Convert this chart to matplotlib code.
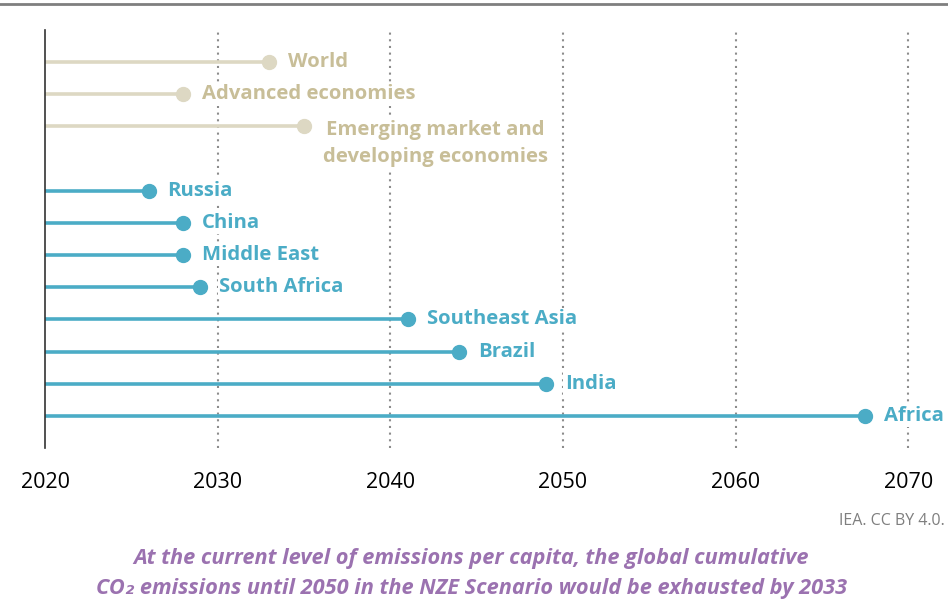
import matplotlib
matplotlib.use('Agg')
import matplotlib.pyplot as plt
from matplotlib.lines import Line2D

labels = ['World', 'Advanced economies', 'Emerging market and\ndeveloping economies',
          'Russia', 'China', 'Middle East', 'South Africa', 'Southeast Asia',
          'Brazil', 'India', 'Africa']
years = [2033, 2028, 2035, 2026, 2028, 2028, 2029, 2041, 2044, 2049, 2067.5]
groups = ['agg', 'agg', 'agg', 'reg', 'reg', 'reg', 'reg', 'reg', 'reg', 'reg', 'reg']
rows = [0, 1, 2, 4, 5, 6, 7, 8, 9, 10, 11]
xticks = [2020, 2030, 2040, 2050, 2060, 2070]

line_col = {'agg': '#DDD8C3', 'reg': '#4BACC6'}
text_col = {'agg': '#C8BE98', 'reg': '#4BACC6'}

plt.rcParams['font.family'] = ['Open Sans', 'DejaVu Sans']

fig = plt.figure(figsize=(9.48, 6.15), dpi=100)
ax = fig.add_axes([0.0475, 0.2715, 0.9105, 0.68])

for x in xticks[1:]:
    ax.axvline(x, color='#8C8C8C', lw=1.5, ls=(0, (1, 2.2)), zorder=1, clip_on=False)

for lab, yr, g, r in zip(labels, years, groups, rows):
    ax.plot([2020, yr], [r, r], color=line_col[g], lw=2.6, solid_capstyle='butt', zorder=2)
    ax.plot(yr, r, 'o', color=line_col[g], ms=10, zorder=3, clip_on=False)
    if '\n' in lab:
        ax.text(yr + 1.1, r - 0.2, lab, color=text_col[g], fontsize=14.6, fontweight='bold',
                va='top', ha='left', multialignment='center', linespacing=1.45,
                bbox=dict(facecolor='white', edgecolor='none', pad=1), zorder=4)
    else:
        ax.text(yr + 1.1, r, lab, color=text_col[g], fontsize=14.6, fontweight='bold',
                va='center', ha='left',
                bbox=dict(facecolor='white', edgecolor='none', pad=1), zorder=4)

ax.set_xlim(2020, 2070)
ax.set_ylim(12, -1)
ax.set_xticks(xticks)
ax.set_yticks([])
ax.tick_params(axis='x', length=0, pad=17, labelsize=15.5)
for s in ['top', 'right', 'bottom']:
    ax.spines[s].set_visible(False)
ax.spines['left'].set_color('#333333')
ax.spines['left'].set_linewidth(1.2)

fig.add_artist(Line2D([0, 1], [0.994, 0.994], color='#7F7F7F', lw=2))
fig.text(0.997, 0.153, 'IEA. CC BY 4.0.', color='#7F7F7F', fontsize=11.5, ha='right', va='center')
fig.text(0.497, 0.068, 'At the current level of emissions per capita, the global cumulative\n'
         'CO\u2082 emissions until 2050 in the NZE Scenario would be exhausted by 2033',
         color='#9B72B0', fontsize=15.7, fontweight='bold', style='italic',
         ha='center', va='center', linespacing=1.55)

fig.savefig('out.png', dpi=100)
